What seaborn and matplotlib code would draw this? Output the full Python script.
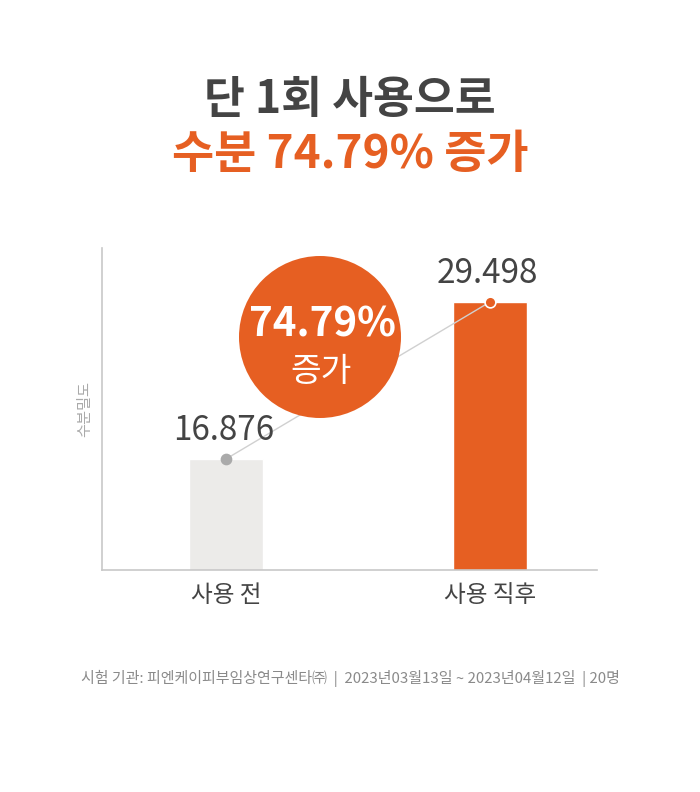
import matplotlib
matplotlib.use("Agg")
import matplotlib.pyplot as plt
import seaborn as sns
import pandas as pd
from matplotlib.patches import Ellipse

# data
categories = ['사용 전', '사용 직후']
values = [16.876, 29.498]
value_labels = ['16.876', '29.498']
increase_label = '74.79%'

ORANGE = '#E65F22'
GRAY_BAR = '#ECEBE9'
DARK = '#444444'

sns.set_theme(style="white")
plt.rcParams['font.family'] = ['Noto Sans CJK KR', 'DejaVu Sans']

fig = plt.figure(figsize=(7, 7.92), dpi=100)
fig.patch.set_facecolor('white')
ax = fig.add_axes([102/700, 1 - 570/792, (597 - 102)/700, (570 - 248)/792])

df = pd.DataFrame({'group': categories, 'value': values})
sns.barplot(data=df, x='group', y='value', hue='group', palette=[GRAY_BAR, ORANGE],
            width=0.28, saturation=1, legend=False, ax=ax)

ax.set_ylim(7.95, 33.83)
ax.set_xlim(-0.47, 1.405)
ax.set_yticks([])
ax.set_xlabel('')
ax.set_ylabel('수분밀도', fontsize=11, color='#aaaaaa', labelpad=6)
for s in ['top', 'right']:
    ax.spines[s].set_visible(False)
for s in ['left', 'bottom']:
    ax.spines[s].set_color('#c8c8c8')
    ax.spines[s].set_linewidth(1.2)
ax.tick_params(axis='x', length=0, labelsize=17, labelcolor=DARK, pad=10)

# connector line + dots on bar tops
xs = [0, 1]
ax.plot(xs, values, color='#d0d0d0', linewidth=1, zorder=3)
ax.scatter([0], [values[0]], s=55, color='#aaaaaa', zorder=4)
ax.scatter([1], [values[1]], s=60, color=ORANGE, edgecolor='white', linewidth=1.2, zorder=4)

for x, v, lab in zip(xs, values, value_labels):
    ax.annotate(lab, (x, v), xytext=(-2, 8), textcoords='offset points',
                ha='center', va='bottom', fontsize=24, color=DARK, fontweight='light')

# highlight circle
cx, cy, r = 320/700, 1 - 337/792, 81
fig.patches.append(Ellipse((cx, cy), 2*r/700, 2*r/792, transform=fig.transFigure,
                           facecolor=ORANGE, edgecolor='none', zorder=5))
fig.text(cx + 2/700, cy + 12/792, increase_label, ha='center', va='center', fontsize=29,
         fontweight='bold', color='white', zorder=6)
fig.text(cx + 1/700, cy - 35/792, '증가', ha='center', va='center', fontsize=24,
         fontweight='medium', color='white', zorder=6)

# title
fig.text(0.5, 1 - 100/792, '단 1회 사용으로', ha='center', va='center', fontsize=32,
         fontweight='bold', color=DARK)
fig.text(0.5, 1 - 155/792, '수분 74.79% 증가', ha='center', va='center', fontsize=33,
         fontweight='bold', color=ORANGE)

# footer
fig.text(0.5, 1 - 678/792,
         '시험 기관: 피엔케이피부임상연구센타㈜  |  2023년03월13일 ~ 2023년04월12일  | 20명',
         ha='center', va='center', fontsize=10.8, color='#8a8a8a')

fig.savefig('out.png', dpi=100, facecolor='white')
